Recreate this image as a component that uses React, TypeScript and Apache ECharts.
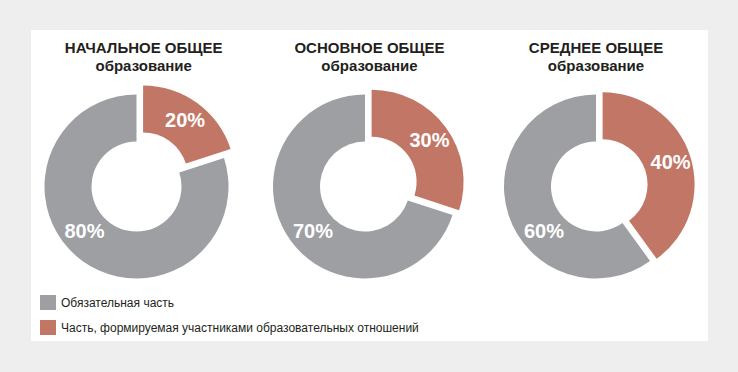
import React, { useEffect, useRef } from "react";
import * as echarts from "echarts";

// ---- data ----
const CATEGORIES = [
  "Обязательная часть",
  "Часть, формируемая участниками образовательных отношений",
];
const LEVELS = ["НАЧАЛЬНОЕ ОБЩЕЕ", "ОСНОВНОЕ ОБЩЕЕ", "СРЕДНЕЕ ОБЩЕЕ"];
const SUBTITLE = "образование";
const MANDATORY = [80, 70, 60];
const PARTICIPANTS = [20, 30, 40];

// ---- layout / style ----
const CENTERS_X = [136.5, 365, 596];
const CENTER_Y = 186.5;
const TITLE_X = [143.7, 369.5, 596];
const R_OUT = 92;
const R_IN = 45;
const GAP = 6.6;
const GRAY = "#9e9fa3";
const RED = "#c27666";
const TEXT = "#231f20";
const FONT = "'Liberation Sans', Arial, sans-serif";

export default function App() {
  const ref = useRef<HTMLDivElement>(null);

  useEffect(() => {
    if (!ref.current) return;
    const chart = echarts.init(ref.current, undefined, { renderer: "svg" });

    const series = LEVELS.map((_, i) => {
      const half = (PARTICIPANTS[i] / 100) * Math.PI; // half of slice angle
      return {
        type: "pie",
        center: [CENTERS_X[i], CENTER_Y],
        radius: [R_IN, R_OUT],
        startAngle: 90,
        clockwise: true,
        selectedMode: "single",
        selectedOffset: GAP / Math.sin(half),
        avoidLabelOverlap: false,
        emphasis: { disabled: true },
        label: {
          show: true,
          position: "inside",
          formatter: "{c}%",
          color: "#ffffff",
          fontSize: 20,
          fontWeight: "bold",
          fontFamily: FONT,
        },
        labelLine: { show: false },
        labelLayout: (p: any) => {
          const cx = CENTERS_X[p.seriesIndex];
          if (p.dataIndex === 0) {
            const a = (PARTICIPANTS[p.seriesIndex] / 100) * Math.PI;
            return {
              x: cx + 73 * Math.sin(a),
              y: CENTER_Y - 73 * Math.cos(a),
              align: "center",
              verticalAlign: "middle",
            };
          }
          return {
            x: cx - 52,
            y: CENTER_Y + 44.5,
            align: "center",
            verticalAlign: "middle",
          };
        },
        data: [
          {
            name: CATEGORIES[1],
            value: PARTICIPANTS[i],
            selected: true,
            itemStyle: { color: RED },
            select: { itemStyle: { color: RED } },
          },
          {
            name: CATEGORIES[0],
            value: MANDATORY[i],
            itemStyle: { color: GRAY },
          },
        ],
      };
    });

    chart.setOption({
      animation: false,
      backgroundColor: "#eeeeee",
      graphic: [
        {
          type: "rect",
          z: -10,
          shape: { x: 31, y: 30, width: 677, height: 311 },
          style: { fill: "#ffffff" },
        },
      ],
      title: LEVELS.map((t, i) => ({
        text: t + "\n" + SUBTITLE,
        left: TITLE_X[i],
        top: 38,
        textAlign: "center",
        padding: 0,
        textStyle: {
          color: TEXT,
          fontSize: 15,
          fontWeight: "bold",
          fontFamily: FONT,
          lineHeight: 18,
        },
      })),
      legend: {
        orient: "vertical",
        left: 40,
        top: 295,
        padding: 0,
        itemWidth: 16,
        itemHeight: 15,
        itemGap: 10,
        icon: "rect",
        selectedMode: false,
        data: [CATEGORIES[0], CATEGORIES[1]],
        textStyle: { color: TEXT, fontSize: 12, fontFamily: FONT },
      },
      series,
    });

    return () => chart.dispose();
  }, []);

  return (
    <div
      ref={ref}
      style={{ position: "absolute", left: 0, top: 0, width: 738, height: 372 }}
    />
  );
}
